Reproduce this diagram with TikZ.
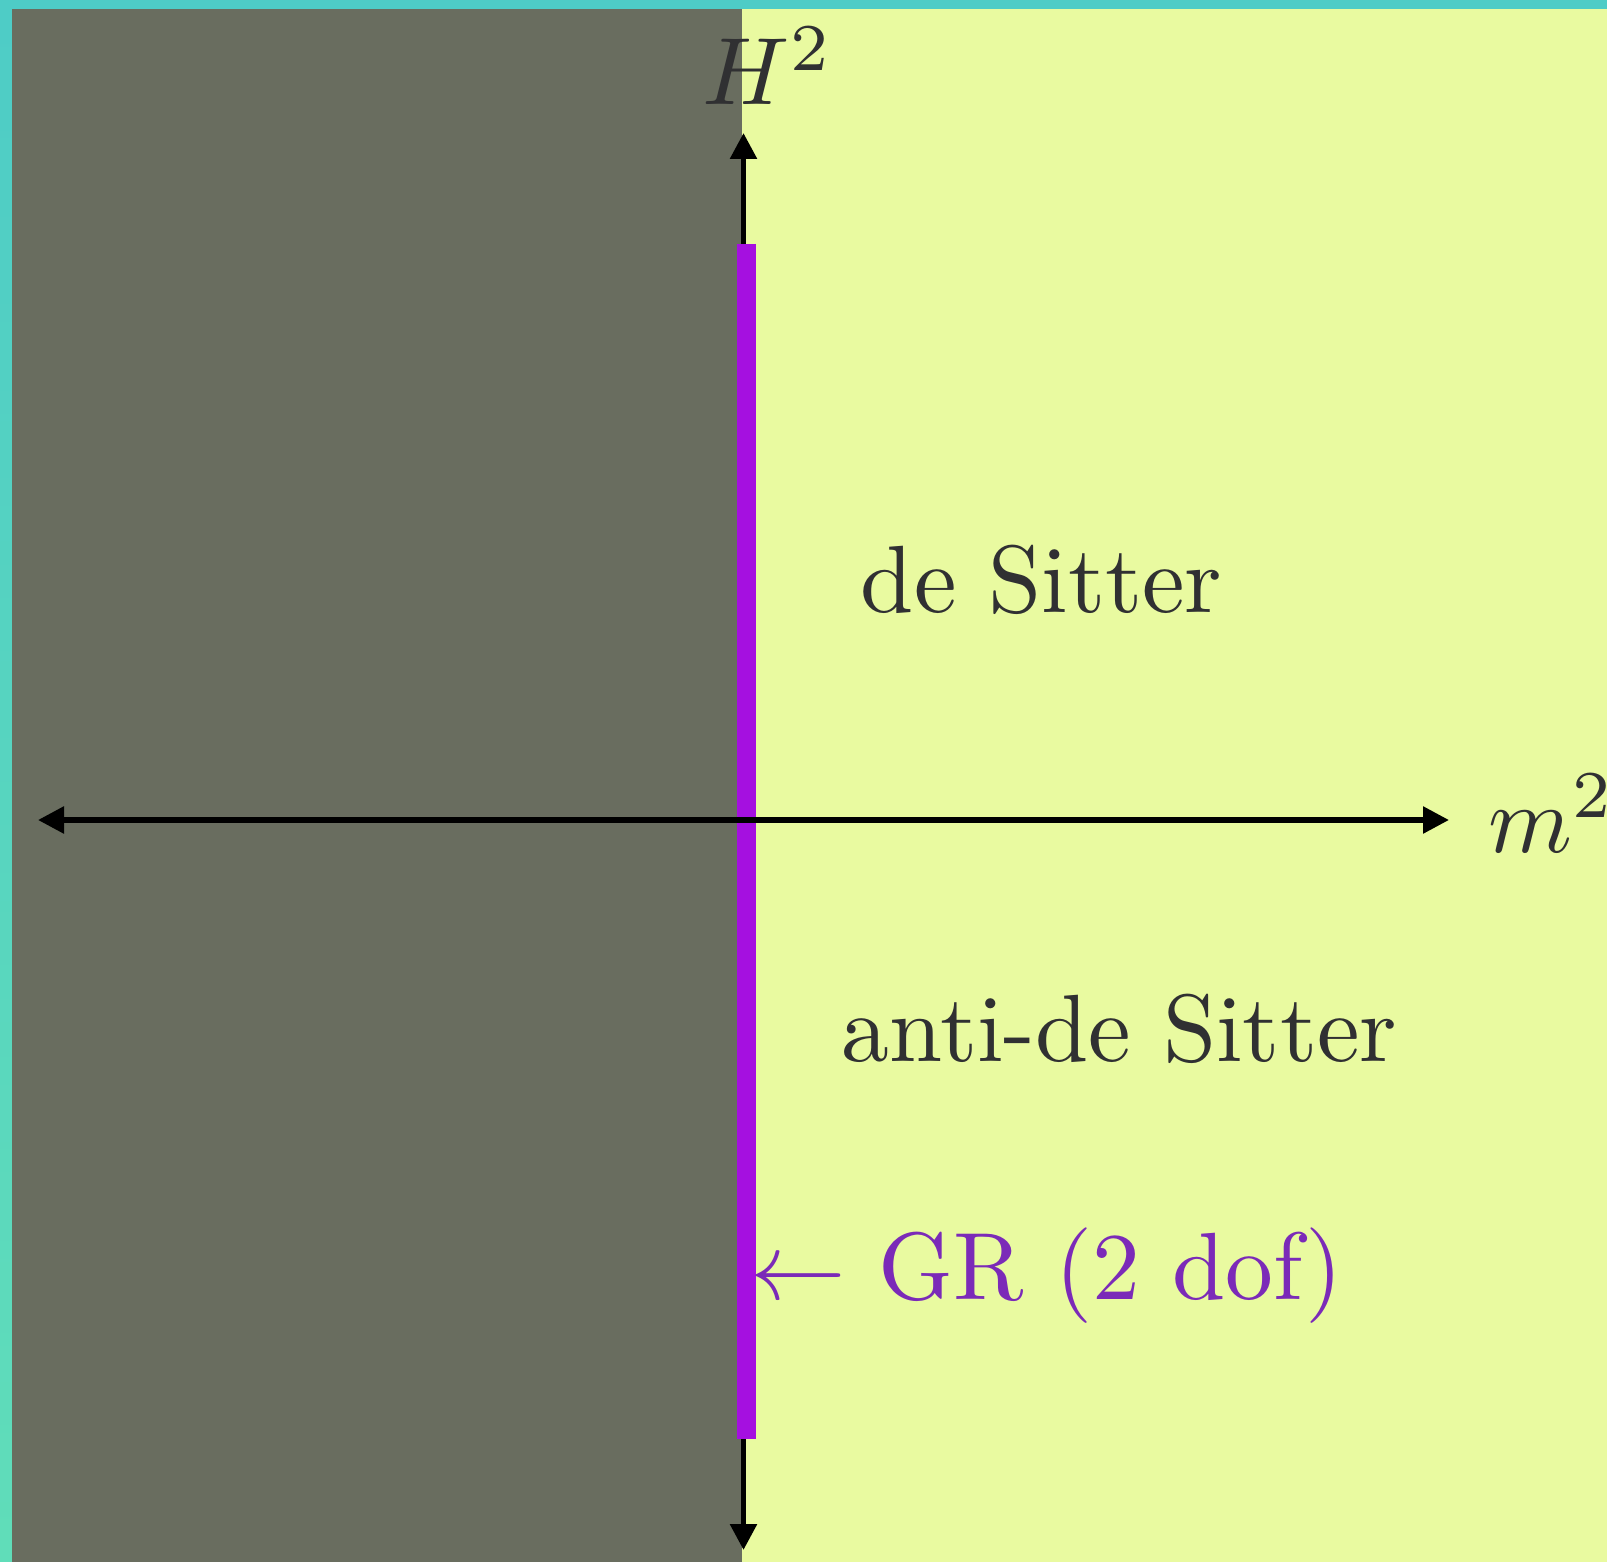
\documentclass[tikz,border=0pt]{standalone}
\usetikzlibrary{arrows.meta}
\definecolor{frametop}{HTML}{4ECCC6}
\definecolor{framebot}{HTML}{60DDB9}
\definecolor{grayreg}{HTML}{696D5F}
\definecolor{yellowreg}{HTML}{E9FAA0}
\definecolor{barpurple}{HTML}{A510E0}
\definecolor{textpurple}{HTML}{7B2AB8}
\definecolor{textgray}{HTML}{303032}
\begin{document}
\begin{tikzpicture}[x=0.25pt,y=-0.25pt,
  axis/.style={line width=1.4pt,{Triangle[length=6.5pt,width=6.5pt]}-{Triangle[length=6.5pt,width=6.5pt]}},
  lbl/.style={inner sep=0pt,anchor=base west,text=textgray,font=\normalsize,scale=2.39},
  grlbl/.style={inner sep=0pt,anchor=base west,text=textpurple,font=\normalsize,scale=2.39},
  grbar/.style={line width=4.75pt,draw=barpurple}]
\useasboundingbox (0,0) rectangle (1607,1562);
\shade[top color=frametop,bottom color=framebot] (0,0) rectangle (1607,1562);
\fill[grayreg] (12,9) rectangle (742,1562);
\fill[yellowreg] (742,9) rectangle (1607,1562);
\coordinate (vtop) at (743.5,133);
\coordinate (vbot) at (743.5,1550);
\coordinate (grtop) at (746.5,244);
\coordinate (grbot) at (746.5,1439);
\coordinate (hleft) at (38,820);
\coordinate (hright) at (1449,820);
\draw[axis] (vbot) -- (vtop);
\draw[grbar] (grtop) -- (grbot);
\draw[axis] (hleft) -- (hright);
\node[lbl] (H) at (701,105) {$H^2$};
\node[lbl] (m) at (1487,852) {$m^2$};
\node[lbl] (dS) at (859,612) {de Sitter};
\node[lbl] (AdS) at (840,1061) {anti-de Sitter};
\node[grlbl] (GR) at (749,1299) {$\leftarrow$ GR (2 dof)};
\end{tikzpicture}
\end{document}
